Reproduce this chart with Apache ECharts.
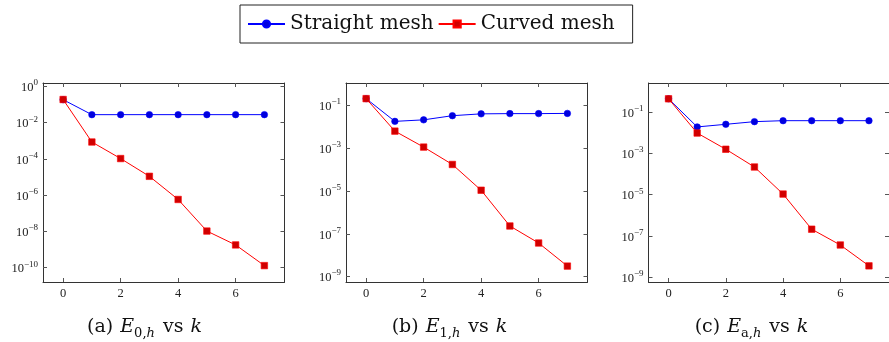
<!DOCTYPE html>
<html>
<head>
<meta charset="utf-8">
<script src="https://cdn.jsdelivr.net/npm/echarts@6/dist/echarts.min.js"></script>
<style>
  html, body { margin: 0; padding: 0; background: #fff; }
  #chart { width: 889px; height: 342px; }
</style>
</head>
<body>
<div id="chart"></div>
<script>
// iterations k
const kValues = [0, 1, 2, 3, 4, 5, 6, 7];
const xTicks = [0, 2, 4, 6];

// (a) E_{0,h}
const straightE0 = [0.186, 0.0277, 0.0277, 0.0278, 0.0278, 0.0278, 0.0278, 0.0278];
const curvedE0 = [0.19, 8.6e-4, 1.05e-4, 1.1e-5, 5.8e-7, 1.05e-8, 1.8e-9, 1.3e-10];
const yTicksA = [1e-10, 1e-8, 1e-6, 1e-4, 1e-2, 1];

// (b) E_{1,h}
const straightE1 = [0.2, 0.0174, 0.0205, 0.032, 0.039, 0.040, 0.040, 0.041];
const curvedE1 = [0.2, 6.1e-3, 1.1e-3, 1.7e-4, 1.07e-5, 2.3e-7, 3.7e-8, 3.1e-9];
const yTicksB = [1e-9, 1e-7, 1e-5, 1e-3, 1e-1];

// (c) E_{a,h}
const straightEa = [0.45, 0.0194, 0.026, 0.035, 0.039, 0.039, 0.039, 0.039];
const curvedEa = [0.45, 9.8e-3, 1.6e-3, 2.2e-4, 1.07e-5, 2.1e-7, 3.6e-8, 3.5e-9];
const yTicksC = [1e-9, 1e-7, 1e-5, 1e-3, 1e-1];

const captions = [
  '{r|(a) }{e|E}{s|0,}{si|h}{r| vs }{i|k}',
  '{r|(b) }{e|E}{s|1,}{si|h}{r| vs }{i|k}',
  '{r|(c) }{e|E}{s|a,}{si|h}{r| vs }{i|k}'
];

const FONT = 'Liberation Serif';
const TEXT_FONT = 'DejaVu Serif';
const AXIS_COLOR = '#333';

const panels = [
  { left: 43, yMin: -10.79, yMax: 0.19, ticks: yTicksA, straight: straightE0, curved: curvedE0, cap: 140 },
  { left: 346, yMin: -9.25, yMax: 0.03, ticks: yTicksB, straight: straightE1, curved: curvedE1, cap: 445 },
  { left: 648.5, yMin: -9.24, yMax: 0.42, ticks: yTicksC, straight: straightEa, curved: curvedEa, cap: 747 }
];

function pow10Label(v) {
  const e = Math.round(Math.log10(v));
  return '{b|10}{sup|' + String(e).replace('-', '\u2212') + '}';
}

const grid = [], xAxis = [], yAxis = [], series = [], title = [];

panels.forEach((p, i) => {
  grid.push({ left: p.left, top: 83, width: 241.5, height: 199 });

  const xBase = {
    type: 'value', gridIndex: i, min: -0.7, max: 7.7,
    axisLine: { show: true, onZero: false, lineStyle: { color: AXIS_COLOR, width: 1 } },
    axisTick: { inside: true, length: 4, customValues: xTicks, lineStyle: { color: '#555' } },
    splitLine: { show: false }
  };
  xAxis.push(Object.assign({}, xBase, {
    position: 'bottom',
    axisLabel: { customValues: xTicks, margin: 5, fontFamily: FONT, fontSize: 12.5, color: '#222' }
  }));
  xAxis.push(Object.assign({}, xBase, { position: 'top', axisLabel: { show: false } }));

  const yBase = {
    type: 'log', gridIndex: i, logBase: 10,
    min: Math.pow(10, p.yMin), max: Math.pow(10, p.yMax),
    axisLine: { show: true, onZero: false, lineStyle: { color: AXIS_COLOR, width: 1 } },
    axisTick: { inside: true, length: 4, customValues: p.ticks, lineStyle: { color: '#555' } },
    splitLine: { show: false },
    minorTick: { show: false }
  };
  yAxis.push(Object.assign({}, yBase, {
    position: 'left',
    axisLabel: {
      customValues: p.ticks, margin: 5, color: '#222',
      formatter: pow10Label,
      rich: {
        b: { fontFamily: FONT, fontSize: 12.5, lineHeight: 16, verticalAlign: 'bottom', color: '#222' },
        sup: { fontFamily: FONT, fontSize: 9, lineHeight: 10, verticalAlign: 'top', color: '#222' }
      }
    }
  }));
  yAxis.push(Object.assign({}, yBase, { position: 'right', axisLabel: { show: false } }));

  series.push({
    name: 'Straight mesh', type: 'line', xAxisIndex: 2 * i, yAxisIndex: 2 * i,
    data: kValues.map((k, j) => [k, p.straight[j]]),
    symbol: 'circle', symbolSize: 6.5,
    lineStyle: { color: '#0000ff', width: 1 },
    itemStyle: { color: '#0000dd', borderColor: '#0000ff', borderWidth: 0.6 },
    emphasis: { disabled: true }, animation: false, z: 3
  });
  series.push({
    name: 'Curved mesh', type: 'line', xAxisIndex: 2 * i, yAxisIndex: 2 * i,
    data: kValues.map((k, j) => [k, p.curved[j]]),
    symbol: 'rect', symbolSize: 6.5,
    lineStyle: { color: '#ff0000', width: 1 },
    itemStyle: { color: '#d00000', borderColor: '#ff0000', borderWidth: 0.6 },
    emphasis: { disabled: true }, animation: false, z: 4
  });

  const capBase = { fontFamily: TEXT_FONT, fontWeight: 'normal', color: '#111' };
  title.push({
    text: captions[i], left: p.cap, top: 313, textAlign: 'center',
    textStyle: {
      fontWeight: 'normal',
      rich: {
        r: Object.assign({ fontSize: 19, lineHeight: 22, verticalAlign: 'top' }, capBase),
        e: Object.assign({ fontSize: 19, fontStyle: 'italic', lineHeight: 22, verticalAlign: 'top', padding: [0, 0, 0, 1] }, capBase),
        i: Object.assign({ fontSize: 19, fontStyle: 'italic', lineHeight: 22, verticalAlign: 'top', padding: [0, 1, 0, 1] }, capBase),
        s: Object.assign({ fontSize: 13, lineHeight: 12, verticalAlign: 'bottom' }, capBase),
        si: Object.assign({ fontSize: 13, fontStyle: 'italic', lineHeight: 12, verticalAlign: 'bottom', padding: [0, 2, 0, 0] }, capBase)
      }
    }
  });
});

const chart = echarts.init(document.getElementById('chart'));
chart.setOption({
  animation: false,
  title: title,
  legend: {
    data: ['Straight mesh', 'Curved mesh'],
    left: 240, top: 5,
    itemWidth: 37, itemHeight: 9, itemGap: 4,
    padding: [9, 18, 9, 7],
    borderColor: '#222', borderWidth: 1,
    textStyle: { fontFamily: TEXT_FONT, fontSize: 20, color: '#111' }
  },
  grid: grid,
  xAxis: xAxis,
  yAxis: yAxis,
  series: series
});
</script>
</body>
</html>
